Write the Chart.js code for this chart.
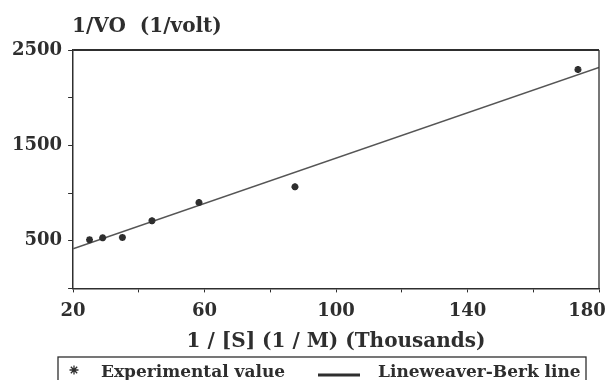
<!DOCTYPE html>
<html>
<head>
<meta charset="utf-8">
<title>Lineweaver-Burk plot</title>
<script src="https://cdn.jsdelivr.net/npm/chart.js@4/dist/chart.umd.min.js"></script>
<style>
  html, body { margin: 0; padding: 0; background: #fff; }
  #wrap { width: 606px; height: 380px; }
</style>
</head>
<body>
<div id="wrap"><canvas id="lbChart" width="606" height="380"></canvas></div>
<script>
// ===== DATA =====
const expX = [25, 29, 35, 44, 58.3, 87.5, 173.6];       // 1/[S] (thousands)
const expY = [510, 530, 535, 710, 900, 1065, 2295];     // 1/VO
const fitX = [20, 180];                                  // Lineweaver-Berk line ends
const fitY = [415, 2318];
const xTickLabels = [20, 60, 100, 140, 180];
const yTickLabels = [500, 1500, 2500];

const INK = "#2e2e2e";
const SERIF = "'DejaVu Serif', 'Liberation Serif', serif";
const TICK_FONT = 18;
const X_TICK_LEN = 4, X_TICK_PAD = 8;

// Draws the frame, the y title, the last x label and the boxed legend
const decorPlugin = {
  id: "decor",
  afterDraw(chart) {
    const { ctx, chartArea: a, scales } = chart;
    ctx.save();

    // top + right edge of the plot box
    ctx.strokeStyle = INK;
    ctx.lineWidth = 2;
    ctx.beginPath();
    ctx.moveTo(a.left, a.top);
    ctx.lineTo(a.right, a.top);
    ctx.stroke();
    ctx.lineWidth = 1.3;
    ctx.beginPath();
    ctx.moveTo(a.right, a.top);
    ctx.lineTo(a.right, a.bottom);
    ctx.stroke();

    // y title above the axis
    ctx.fillStyle = INK;
    ctx.font = "bold 20px " + SERIF;
    ctx.textAlign = "left";
    ctx.textBaseline = "middle";
    ctx.fillText("1/VO  (1/volt)", a.left - 1, a.top - 23);

    // last x label sits inside the right edge
    const lastX = xTickLabels[xTickLabels.length - 1];
    ctx.font = "bold " + TICK_FONT + "px " + SERIF;
    ctx.textAlign = "center";
    ctx.textBaseline = "middle";
    const labelY = scales.x.top + X_TICK_LEN + X_TICK_PAD + TICK_FONT * 0.6;
    ctx.fillText(String(lastX), scales.x.getPixelForValue(lastX) - 12, labelY);

    // legend box
    const ds = chart.data.datasets;
    const boxL = 58, boxR = 586, boxT = 357;
    ctx.lineWidth = 1.3;
    ctx.strokeRect(boxL, boxT, boxR - boxL, 40);

    ctx.font = "bold 17px " + SERIF;
    ctx.textAlign = "left";
    ctx.textBaseline = "alphabetic";
    Chart.helpers.drawPoint(ctx, { pointStyle: "star", radius: 4.5, borderWidth: 2.5 }, 74, 370);
    ctx.fillText(ds[0].label, 101, 377);

    ctx.lineWidth = 3;
    ctx.beginPath();
    ctx.moveTo(318, 375);
    ctx.lineTo(360, 375);
    ctx.stroke();
    ctx.fillText(ds[1].label, 378, 377);

    ctx.restore();
  }
};

new Chart(document.getElementById("lbChart"), {
  type: "scatter",
  data: {
    datasets: [
      {
        label: "Experimental value",
        data: expX.map((x, i) => ({ x, y: expY[i] })),
        pointStyle: "star",
        pointRadius: 3.5,
        borderWidth: 2.2,
        borderColor: INK,
        backgroundColor: INK
      },
      {
        label: "Lineweaver-Berk line",
        data: fitX.map((x, i) => ({ x, y: fitY[i] })),
        showLine: true,
        pointRadius: 0,
        borderWidth: 1.5,
        borderColor: "#555"
      }
    ]
  },
  options: {
    responsive: false,
    animation: false,
    devicePixelRatio: 1,
    layout: { padding: { top: 50, right: 7, bottom: 22, left: 6 } },
    plugins: {
      legend: { display: false },
      tooltip: { enabled: false }
    },
    scales: {
      x: {
        type: "linear",
        min: 20,
        max: 180,
        afterFit(scale) { scale.paddingRight = 0; },
        ticks: {
          stepSize: 20,
          padding: X_TICK_PAD,
          color: INK,
          font: { family: SERIF, size: TICK_FONT, weight: "bold" },
          maxRotation: 0,
          autoSkip: false,
          callback: v => (xTickLabels.includes(v) && v !== xTickLabels[xTickLabels.length - 1]) ? v : ""
        },
        grid: { drawOnChartArea: false, drawTicks: true, tickLength: X_TICK_LEN, tickColor: INK },
        border: { color: INK, width: 1.5 },
        title: {
          display: true,
          text: "1 / [S] (1 / M) (Thousands)",
          color: INK,
          font: { family: SERIF, size: 20, weight: "bold" },
          padding: { top: 0, bottom: 4 }
        }
      },
      y: {
        type: "linear",
        min: 0,
        max: 2500,
        ticks: {
          stepSize: 500,
          padding: 6,
          color: INK,
          font: { family: SERIF, size: TICK_FONT, weight: "bold" },
          autoSkip: false,
          callback: v => yTickLabels.includes(v) ? v : ""
        },
        grid: { drawOnChartArea: false, drawTicks: true, tickLength: 5, tickColor: INK },
        border: { color: INK, width: 1.5 }
      }
    }
  },
  plugins: [decorPlugin]
});
</script>
</body>
</html>
